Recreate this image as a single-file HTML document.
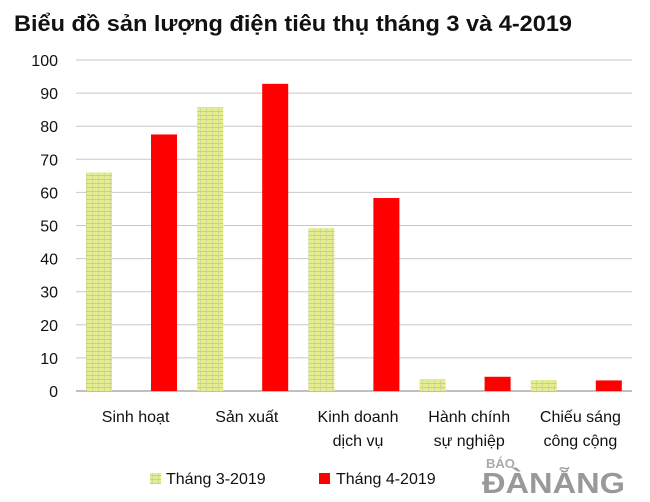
<!DOCTYPE html>
<html><head><meta charset="utf-8"><style>
body{margin:0;background:#fff;width:650px;height:497px;overflow:hidden;font-family:"Liberation Sans","Noto Sans CJK SC",sans-serif}
</style></head><body>
<svg width="650" height="497" font-family="Liberation Sans, sans-serif">
<defs>
<pattern id="brick" width="6" height="4" patternUnits="userSpaceOnUse">
<rect width="6" height="4" fill="#e4ee8a"/>
<rect x="0" y="3" width="6" height="1" fill="#c8cca0"/>
<rect x="2" y="0" width="1" height="3" fill="#d2d89a"/>
</pattern>
</defs>
<text x="14" y="31" font-size="22" font-weight="bold" fill="#111" textLength="558" lengthAdjust="spacingAndGlyphs">Biểu đồ sản lượng điện tiêu thụ tháng 3 và 4-2019</text>
<g id="grid"></g><g id="bars"></g><g id="labels"></g>
<g>
<rect x="150" y="473" width="11" height="11" fill="url(#brick)"/>
<text x="166" y="484" font-size="16" fill="#111">Tháng 3-2019</text>
<rect x="319" y="473" width="11" height="11" fill="#ff0000"/>
<text x="336" y="484" font-size="16" fill="#111">Tháng 4-2019</text>
</g>
<g>
<text x="486" y="468" font-size="13" font-weight="bold" fill="#aaa">BÁO</text>
<text x="482" y="493" font-size="29" font-weight="bold" fill="#999" textLength="143" lengthAdjust="spacingAndGlyphs">ĐÀNẴNG</text>
</g>
</svg>
<script>
const categories=[["Sinh hoạt"],["Sản xuất"],["Kinh doanh","dịch vụ"],["Hành chính","sự nghiệp"],["Chiếu sáng","công cộng"]];
const series3=[66,85.7,49.2,3.5,3.3];
const series4=[77.5,92.8,58.3,4.3,3.2];
const ticks=[0,10,20,30,40,50,60,70,80,90,100];
const NS="http://www.w3.org/2000/svg";
const x0=76,x1=632,y0=391,y1=60,cw=(x1-x0)/categories.length;
const y=v=>y0-(v/100)*(y0-y1);
function mk(t,a,p){const e=document.createElementNS(NS,t);for(const k in a)e.setAttribute(k,a[k]);p.appendChild(e);return e;}
const g=document.getElementById('grid'),b=document.getElementById('bars'),l=document.getElementById('labels');
ticks.forEach(t=>{
 const ln=mk('line',{x1:x0,x2:x1,y1:y(t),y2:y(t),stroke:t===0?'#aaa':'#c8c8c8','stroke-width':t===0?1.5:1},g);
 
 
 const tx=mk('text',{x:58,y:y(t)+6,'font-size':16,'text-anchor':'end',fill:'#111'},g);
 tx.textContent=t;
 
 
});
categories.forEach((c,i)=>{
 const cx=x0+i*cw;
 const r3=mk('rect',{x:cx+10,y:y(series3[i]),width:26,height:y0-y(series3[i]),fill:'url(#brick)'},b);
 
 
 const r4=mk('rect',{x:cx+75,y:y(series4[i]),width:26,height:y0-y(series4[i]),fill:'#ff0000'},b);
 
 
 c.forEach((s,j)=>{
  const t=mk('text',{x:cx+cw/2+4,y:422+j*24,'font-size':16,'text-anchor':'middle',fill:'#111'},l);
  t.textContent=s;
  
  
 });
});
</script>
</body></html>
